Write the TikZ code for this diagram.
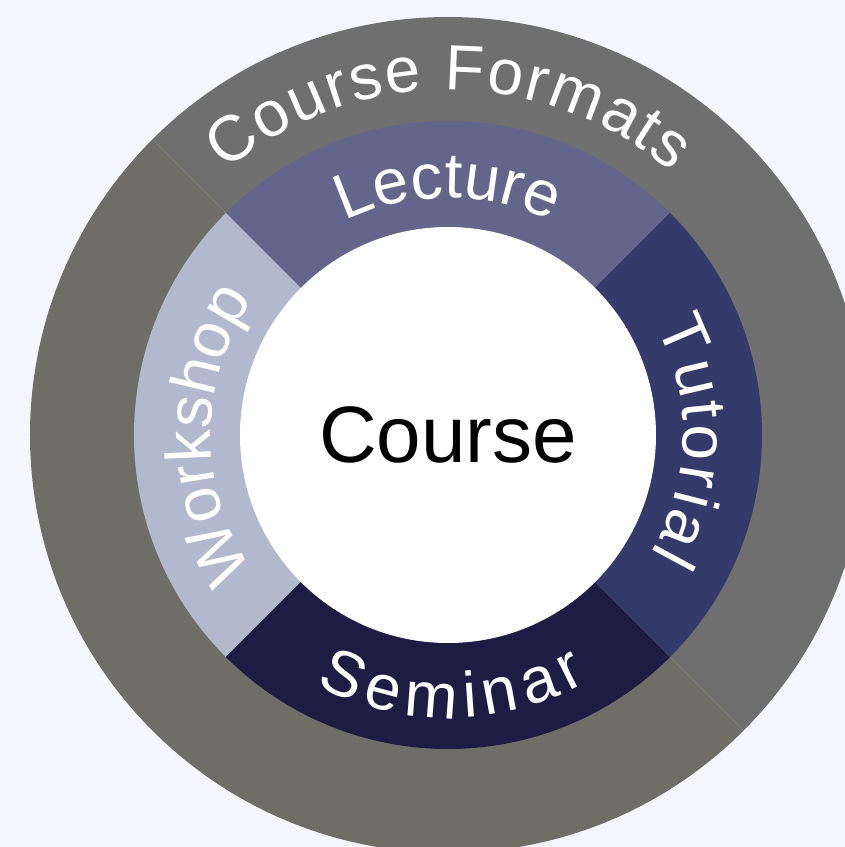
\documentclass[tikz,border=0pt]{standalone}
\usepackage{fontspec}
\setmainfont{Liberation Sans}
\usetikzlibrary{decorations.text}

\definecolor{bgcol}{HTML}{F5F6FD}
\definecolor{ringupper}{HTML}{6F6F6F}
\definecolor{ringlower}{HTML}{6E6E66}
\definecolor{lecturecol}{HTML}{63658A}
\definecolor{tutorialcol}{HTML}{343A69}
\definecolor{seminarcol}{HTML}{1E1C42}
\definecolor{workshopcol}{HTML}{B2B8CD}

\newcommand{\ringfont}{\fontsize{64}{64}\selectfont\color{white}}

\begin{document}
\begin{tikzpicture}[
    x=1pt,
    y=1pt,
    hub/.style={
        circle,
        fill=white,
        minimum size=416pt,
        inner sep=0pt,
        font=\fontsize{80}{80}\selectfont
    },
    arclabel/.style 2 args={
        decorate,
        decoration={
            text along path,
            text align=center,
            text={|\ringfont\kern#1pt|#2}
        }
    }
]

% Canvas
\useasboundingbox (-448,-412) rectangle (397,435);
\fill[bgcol] (-448,-412) rectangle (397,435);
\clip (-448,-412) rectangle (397,435);

% Outer ring
\fill[ringupper] (0,0) -- (-45:418) arc[start angle=-45, end angle=135, radius=418] -- cycle;
\fill[ringlower] (0,0) -- (135:418) arc[start angle=135, end angle=315, radius=418] -- cycle;

% Inner ring
\foreach \a/\col in {45/lecturecol, 135/workshopcol, 225/seminarcol, -45/tutorialcol}
    \fill[\col] (0,0) -- (\a:314) arc[start angle=\a, end angle=\a+90, radius=314] -- cycle;

% Centre
\node[hub] (course) at (0,0) {Course};

% Ring labels
\path[arclabel={2}{Course Formats}] (160:345) arc[start angle=160, end angle=20, radius=345];
\path[arclabel={0}{Lecture}] (130:237) arc[start angle=130, end angle=50, radius=237];
\path[arclabel={3.5}{Tutorial}] (40:235) arc[start angle=40, end angle=-42, radius=235];
\path[arclabel={7.5}{Seminar}] (200:283) arc[start angle=200, end angle=340, radius=283];
\path[arclabel={0}{Workshop}] (230:237) arc[start angle=230, end angle=130, radius=237];

\end{tikzpicture}
\end{document}
